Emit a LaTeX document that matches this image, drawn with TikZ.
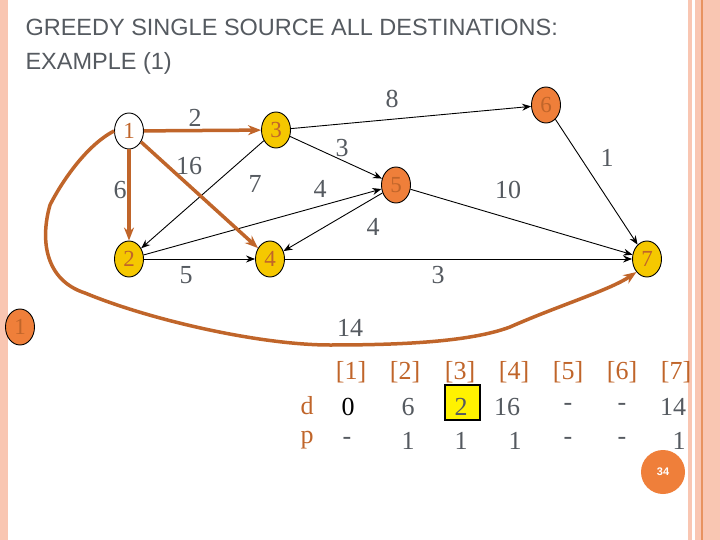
\documentclass[tikz,border=0pt]{standalone}
\usepackage{fontspec}
\setmainfont{Liberation Serif}
\newfontfamily\titlefont{Liberation Sans}
\usetikzlibrary{arrows.meta,shapes.geometric}
\definecolor{pinkb}{HTML}{F9C6B2}
\definecolor{orl}{HTML}{E8935F}
\definecolor{brn}{HTML}{C0652A}
\definecolor{gold}{HTML}{F5C800}
\definecolor{org}{HTML}{EF7F3A}
\definecolor{grt}{HTML}{555A60}
\begin{document}
\begin{tikzpicture}[x=1pt,y=-1pt,
  vtx/.style={draw=black,line width=0.9pt,ellipse,minimum width=29pt,minimum height=36pt,inner sep=0pt,font=\fontsize{23}{23}\selectfont,text=brn},
  yv/.style={vtx,fill=gold},
  ov/.style={vtx,fill=org},
  wv/.style={vtx,fill=white},
  edge/.style={-{Stealth[length=9pt,width=7pt]},line width=0.9pt,black},
  hot/.style={-{Stealth[length=13pt,width=10pt]},line width=3.5pt,brn},
  wl/.style={font=\fontsize{26}{26}\selectfont,text=grt},
  th/.style={font=\fontsize{26}{26}\selectfont,text=brn},
  tv/.style={font=\fontsize{26}{26}\selectfont,text=grt}]
\useasboundingbox (0,0) rectangle (720,540);
\fill[white] (0,0) rectangle (720,540);
\fill[pinkb] (0,0) rectangle (8,540);
\fill[pinkb] (688,0) rectangle (720,540);
\fill[white] (692,0) rectangle (695,540);
\fill[orl] (701,0) rectangle (703,540);
\node[anchor=west,align=left,font=\titlefont\fontsize{23.5}{34}\selectfont,text=grt] (title) at (22,47) {GREEDY SINGLE SOURCE ALL DESTINATIONS:\\EXAMPLE (1)};
\node[wv] (n1) at (129,131) {1};
\node[yv] (n3) at (276,130) {3};
\node[ov] (n6) at (546,105) {6};
\node[ov] (n5) at (396,185) {5};
\node[yv] (n2) at (129,259) {2};
\node[yv] (n4) at (270,259) {4};
\node[yv] (n7) at (647,259) {7};
\node[ov] (s1) at (20,327) {1};
\draw[edge] (n3) -- (n6);
\draw[edge] (n3) -- (n5);
\draw[edge] (n3) -- (n2);
\draw[edge] (n2) -- (n5);
\draw[edge] (n5) -- (n4);
\draw[edge] (n2) -- (n4);
\draw[edge] (n4) -- (n7);
\draw[edge] (n5) -- (n7);
\draw[edge] (n6) -- (n7);
\draw[hot] (n1) -- (n3);
\draw[hot] (n1) -- (n2);
\draw[hot] (n1) -- (n4);
\draw[hot,line width=3.5pt,line join=round] (n1.west) .. controls (85,146) and (60,185) .. (50,205)
  .. controls (40,240) and (45,280) .. (85,293)
  .. controls (150,320) and (260,345) .. (330,345)
  .. controls (400,345) and (470,342) .. (510,327)
  .. controls (560,305) and (610,290) .. (n7.south west);
\node[wl] (l2) at (195,118) {2};
\node[wl] (l16) at (189,166) {16};
\node[wl] (l6) at (120,190) {6};
\node[wl] (l7) at (255,184) {7};
\node[wl] (l3a) at (342,148) {3};
\node[wl] (l4a) at (320,189) {4};
\node[wl] (l4b) at (373,227) {4};
\node[wl] (l8) at (392,99) {8};
\node[wl] (l1) at (607,158) {1};
\node[wl] (l10) at (508,190) {10};
\node[wl] (l5) at (186,275) {5};
\node[wl] (l3b) at (438,275) {3};
\node[wl] (l14) at (350,328) {14};
\fill[yellow,draw=black,line width=1.2pt] (445,385) rectangle (480,420);
\foreach \x/\t [count=\i] in {351/[1],405/[2],460/[3],514/[4],568/[5],622/[6],676/[7]}
  \node[th] (h\i) at (\x,372) {\t};
\node[th] (rd) at (307,406) {d};
\node[th] (rp) at (307,440) {p};
\node[font=\fontsize{26}{26}\selectfont] (d1) at (348,407) {0};
\foreach \x/\t [count=\i] in {408/6,461/2,507/16,568/-,622/-,673/14}
  \node[tv] (d\i x) at (\x,407) {\t};
\foreach \x/\t [count=\i] in {347/-,408/1,461/1,515/1,568/-,622/-,679/1}
  \node[tv] (p\i) at (\x,441) {\t};
\node[circle,fill=org,minimum size=44pt,inner sep=0pt,text=white,font=\titlefont\bfseries\fontsize{11}{11}\selectfont] (pg) at (663,472) {34};
\end{tikzpicture}
\end{document}
